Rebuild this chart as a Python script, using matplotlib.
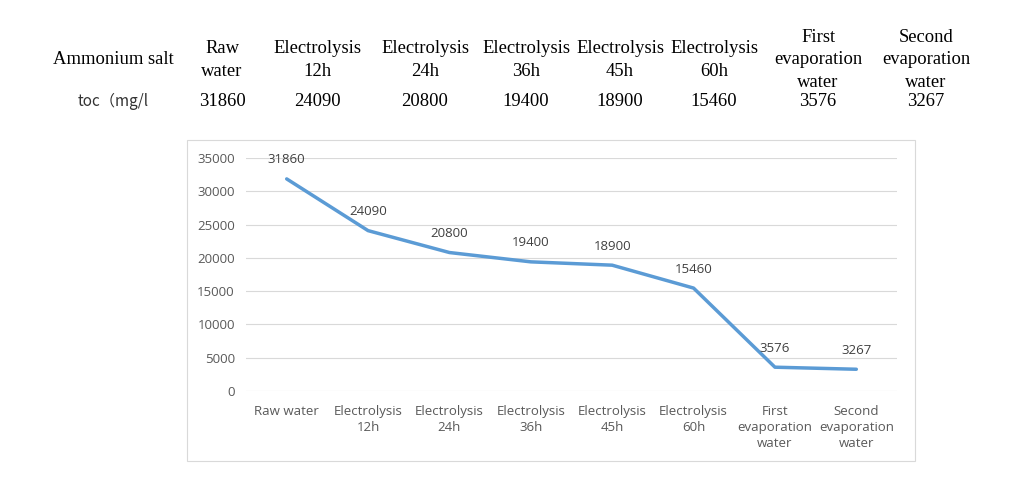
import matplotlib.pyplot as plt
from matplotlib.patches import Rectangle

# data from the picture
categories = ["Raw water", "Electrolysis\n12h", "Electrolysis\n24h", "Electrolysis\n36h",
              "Electrolysis\n45h", "Electrolysis\n60h", "First\nevaporation\nwater",
              "Second\nevaporation\nwater"]
toc = [31860, 24090, 20800, 19400, 18900, 15460, 3576, 3267]
table_heads = ["Raw\nwater", "Electrolysis\n12h", "Electrolysis\n24h", "Electrolysis\n36h",
               "Electrolysis\n45h", "Electrolysis\n60h", "First\nevaporation\nwater",
               "Second\nevaporation\nwater"]
yticks = [0, 5000, 10000, 15000, 20000, 25000, 30000, 35000]

W, H = 1024, 495
fig = plt.figure(figsize=(W / 100, H / 100), dpi=100)

# table on top
col_x = [222, 317, 425, 526, 620, 714, 818, 926]
serif = "Liberation Serif"
fig.text(113 / W, 1 - 60 / H, "Ammonium salt", family=serif, fontsize=13.4,
         ha="center", va="center")
fig.text(113 / W, 1 - 101 / H, "toc（mg/l", family=["Noto Sans CJK SC", "DejaVu Sans"],
         fontsize=11, ha="center", va="center", color="#333333")
for x, head, v in zip(col_x, table_heads, toc):
    fig.text(x / W, 1 - 60 / H, head, family=serif, fontsize=13.4,
             ha="center", va="center", linespacing=1.4)
    fig.text(x / W, 1 - 101 / H, str(v), family=serif, fontsize=13.4,
             ha="center", va="center")

# chart border
fig.patches.append(Rectangle((187 / W, 1 - 461 / H), 728 / W, 321 / H,
                             transform=fig.transFigure, fill=False,
                             edgecolor="#D9D9D9", lw=0.8))

ax = fig.add_axes([246 / W, 1 - 391 / H, 651 / W, 233 / H])
xs = range(len(categories))
ax.plot(xs, toc, color="#5B9BD5", lw=2.5, solid_capstyle="round")
for x, v in zip(xs, toc):
    ax.annotate(str(v), (x, v), xytext=(0, 9), textcoords="offset points",
                ha="center", va="bottom", fontsize=9.5, color="#404040",
                family="Open Sans")

ax.set_xlim(-0.5, len(categories) - 0.5)
ax.set_ylim(0, 35000)
ax.set_yticks(yticks)
ax.set_yticklabels([str(t) for t in yticks], family="Open Sans", fontsize=9.5,
                   color="#595959")
ax.set_xticks(list(xs))
ax.set_xticklabels(categories, family="Open Sans", fontsize=9.5, color="#595959",
                   linespacing=1.3, va="top")
ax.grid(axis="y", color="#D9D9D9", lw=0.8)
ax.set_axisbelow(True)
for s in ax.spines.values():
    s.set_visible(False)
ax.tick_params(length=0, pad=8)
ax.tick_params(axis="x", pad=10)

fig.savefig("out.png", dpi=100)
